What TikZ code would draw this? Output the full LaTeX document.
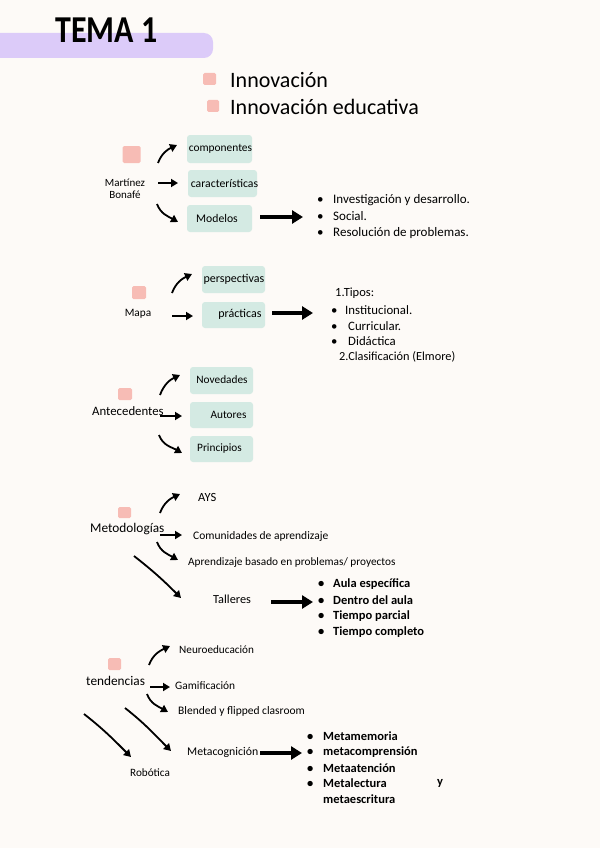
\documentclass[tikz,border=0pt]{standalone}
\usepackage{fontspec}
\setmainfont{Carlito}
\usetikzlibrary{arrows.meta}
\definecolor{bg}{HTML}{FDFAF7}
\definecolor{lav}{HTML}{DCCBF9}
\definecolor{pinkq}{HTML}{F7BCB5}
\definecolor{mint}{HTML}{D4EAE3}
\newcommand{\fs}[1]{\fontsize{#1}{#1}\selectfont}
\begin{document}
\begin{tikzpicture}[x=1pt,y=-1pt,
  box/.style={fill=mint, rounded corners=3pt, inner sep=0pt},
  sq/.style={fill=pinkq, rounded corners=1.5pt, inner sep=0pt},
  txt/.style={inner sep=0pt, anchor=west, font=\fs{11.3}},
  listtxt/.style={txt, font=\fs{13}},
  headtxt/.style={txt, font=\fs{13.3}},
  bold/.style={txt, font=\bfseries\fs{12.5}},
  arr/.style={line width=1.8pt, -{Triangle[length=7pt,width=8pt]}},
  bigarr/.style={line width=3.5pt, -{Triangle[length=11pt,width=13pt]}},
]
\useasboundingbox (0,0) rectangle (600,848);
\fill[bg] (0,0) rectangle (600,848);
% title band
\fill[lav, rounded corners=9pt] (-20,33) rectangle (213,58);
\node[inner sep=0pt, anchor=base west, font=\bfseries\fs{38}] (title) at (55,43) {\scalebox{0.84}[1]{TEMA 1}};
% top items
\node[sq, minimum width=13pt, minimum height=12pt] (sq1) at (209.5,79) {};
\node[sq, minimum width=12pt, minimum height=12pt] (sq2) at (213,106) {};
\node[inner sep=0pt, anchor=base west, font=\fs{22}] (innov) at (230,88) {Innovación};
\node[inner sep=0pt, anchor=base west, font=\fs{22}] (innoved) at (230,115) {Innovación educativa};

% ---------- Martinez Bonafe
\node[sq, minimum width=18pt, minimum height=17pt] (sqM) at (131.5,154.5) {};
\node[inner sep=0pt, align=center, font=\fontsize{11}{12}\selectfont] (mart) at (125,189) {Martínez\\Bonafé};
\node[box, minimum width=65pt, minimum height=28pt] (compb) at (219.5,149) {};
\node[box, minimum width=69pt, minimum height=27pt] (carb) at (222.5,183.5) {};
\node[box, minimum width=65pt, minimum height=27pt] (modb) at (219.5,218.5) {};
\node[txt, anchor=center, font=\fs{11.4}] (compt) at (220.5,149) {componentes};
\node[txt, anchor=center, font=\fs{11.7}] (cart) at (224.5,183) {características};
\node[txt, anchor=center, font=\fs{11.7}] (modt) at (217,218) {Modelos};
\coordinate (m1s) at (158,163); \coordinate (m1e) at (177,145);
\coordinate (m2s) at (158,183); \coordinate (m2e) at (178,183);
\coordinate (m3s) at (157,204); \coordinate (m3e) at (178,222);
\draw[arr] (m1s) to[out=70,in=205] (m1e);
\draw[arr] (m2s) -- (m2e);
\draw[arr] (m3s) to[out=-70,in=150] (m3e);
\coordinate (modl) at (260,217); \coordinate (modr) at (303,217);
\draw[bigarr] (modl) -- (modr);
\node[listtxt] (l11) at (317,200) {\makebox[16pt][l]{•}Investigación y desarrollo.};
\node[listtxt] (l12) at (317,216.5) {\makebox[16pt][l]{•}Social.};
\node[listtxt] (l13) at (317,233) {\makebox[16pt][l]{•}Resolución de problemas.};

% ---------- Mapa
\node[sq, minimum width=14pt, minimum height=13pt] (sqMa) at (139,292.5) {};
\node[txt, anchor=center] (mapa) at (138,314) {Mapa};
\node[box, minimum width=63pt, minimum height=27pt] (perb) at (233.5,279.5) {};
\node[box, minimum width=63pt, minimum height=26pt] (prab) at (233.5,315) {};
\node[txt, anchor=center, font=\fs{12}] (pert) at (234,279) {perspectivas};
\node[txt, anchor=center, font=\fs{12}] (prat) at (240,314) {prácticas};
\coordinate (p1s) at (172,293); \coordinate (p1e) at (192,274);
\coordinate (p2s) at (172,316); \coordinate (p2e) at (193,316);
\draw[arr] (p1s) to[out=70,in=205] (p1e);
\draw[arr] (p2s) -- (p2e);
\coordinate (pral) at (272,313); \coordinate (prar) at (313,313);
\draw[bigarr] (pral) -- (prar);
\node[listtxt, font=\fs{12.5}] (t0) at (335,293) {1.Tipos:};
\node[listtxt, font=\fs{12.8}] (t1) at (331,310) {\makebox[14pt][l]{•}Institucional.};
\node[listtxt, font=\fs{12.8}] (t2) at (331,326) {\makebox[17pt][l]{•}Curricular.};
\node[listtxt, font=\fs{12.8}] (t3) at (331,341) {\makebox[17pt][l]{•}Didáctica};
\node[listtxt, font=\fs{12.3}] (t4) at (339,357) {2.Clasificación (Elmore)};

% ---------- Antecedentes
\node[sq, minimum width=14pt, minimum height=12pt] (sqA) at (125,394) {};
\node[headtxt, font=\fs{12.8}] (antec) at (92,411) {Antecedentes};
\node[box, minimum width=63pt, minimum height=27pt] (novb) at (221.5,380.5) {};
\node[box, minimum width=63pt, minimum height=26pt] (autb) at (221.5,415) {};
\node[box, minimum width=63pt, minimum height=26pt] (prib) at (221.5,449) {};
\node[txt, anchor=center] (novt) at (222,380) {Novedades};
\node[txt, anchor=center] (autt) at (228.5,415) {Autores};
\node[txt, anchor=center] (prit) at (219.5,449) {Principios};
\coordinate (a1s) at (160,395); \coordinate (a1e) at (180,375);
\coordinate (a2s) at (160,416); \coordinate (a2e) at (182,416);
\coordinate (a3s) at (159,435); \coordinate (a3e) at (182,453);
\draw[arr] (a1s) to[out=70,in=205] (a1e);
\draw[arr] (a2s) -- (a2e);
\draw[arr] (a3s) to[out=-70,in=150] (a3e);

% ---------- Metodologias
\node[sq, minimum width=13pt, minimum height=11pt] (sqMe) at (124.5,512.5) {};
\node[headtxt] (metod) at (90,529) {Metodologías};
\node[txt, font=\fs{12.5}] (ays) at (198,497) {AYS};
\node[txt, font=\fs{11.5}] (comu) at (193,536) {Comunidades de aprendizaje};
\node[txt, font=\fs{11.3}] (abp) at (188,563) {Aprendizaje basado en problemas/ proyectos};
\node[txt, font=\fs{12.3}] (tall) at (213,599) {Talleres};
\coordinate (e1s) at (160,513); \coordinate (e1e) at (180,494);
\coordinate (e2s) at (160,535); \coordinate (e2e) at (182,535);
\coordinate (e3s) at (157,542); \coordinate (e3e) at (178,560);
\coordinate (e4s) at (134,556); \coordinate (e4e) at (181,598);
\draw[arr] (e1s) to[out=70,in=205] (e1e);
\draw[arr] (e2s) -- (e2e);
\draw[arr] (e3s) to[out=-70,in=150] (e3e);
\draw[arr] (e4s) to[out=-38,in=135] (e4e);
\coordinate (talll) at (271,602); \coordinate (tallr) at (313,602);
\draw[bigarr] (talll) -- (tallr);
\node[bold] (w1) at (318,584) {\makebox[15pt][l]{•}Aula específica};
\node[bold] (w2) at (318,600) {\makebox[15pt][l]{•}Dentro del aula};
\node[bold] (w3) at (318,616) {\makebox[15pt][l]{•}Tiempo parcial};
\node[bold] (w4) at (318,632) {\makebox[15pt][l]{•}Tiempo completo};

% ---------- tendencias
\node[sq, minimum width=13pt, minimum height=12pt] (sqT) at (114.5,664) {};
\node[headtxt] (tend) at (86,681) {tendencias};
\node[txt, font=\fs{11.2}] (neuro) at (179,650) {Neuroeducación};
\node[txt, font=\fs{11.4}] (gami) at (175,686) {Gamificación};
\node[txt, font=\fs{11.5}] (blend) at (178,711) {Blended y flipped clasroom};
\node[txt, font=\fs{11.2}] (robo) at (130,773) {Robótica};
\node[txt, font=\fs{11.8}] (metac) at (187,752) {Metacognición};
\coordinate (n1s) at (149,665); \coordinate (n1e) at (170,646);
\coordinate (n2s) at (150,687); \coordinate (n2e) at (170,687);
\coordinate (n3s) at (147,694); \coordinate (n3e) at (168,712);
\coordinate (n4s) at (125,708); \coordinate (n4e) at (171,751);
\coordinate (n5s) at (84,714);  \coordinate (n5e) at (131,757);
\draw[arr] (n1s) to[out=70,in=205] (n1e);
\draw[arr] (n2s) -- (n2e);
\draw[arr] (n3s) to[out=-70,in=150] (n3e);
\draw[arr] (n4s) to[out=-38,in=135] (n4e);
\draw[arr] (n5s) to[out=-38,in=135] (n5e);
\coordinate (metl) at (260,753); \coordinate (metr) at (302,753);
\draw[bigarr] (metl) -- (metr);
\node[bold] (z1) at (307,736) {\makebox[16pt][l]{•}Metamemoria};
\node[bold] (z2) at (307,752) {\makebox[16pt][l]{•}metacomprensión};
\node[bold] (z3) at (307,768) {\makebox[16pt][l]{•}Metaatención};
\node[bold] (z4) at (307,783) {\makebox[16pt][l]{•}Metalectura};
\node[bold] (zy) at (437,783) {y};
\node[bold] (z5) at (323,799) {metaescritura};
\end{tikzpicture}
\end{document}
